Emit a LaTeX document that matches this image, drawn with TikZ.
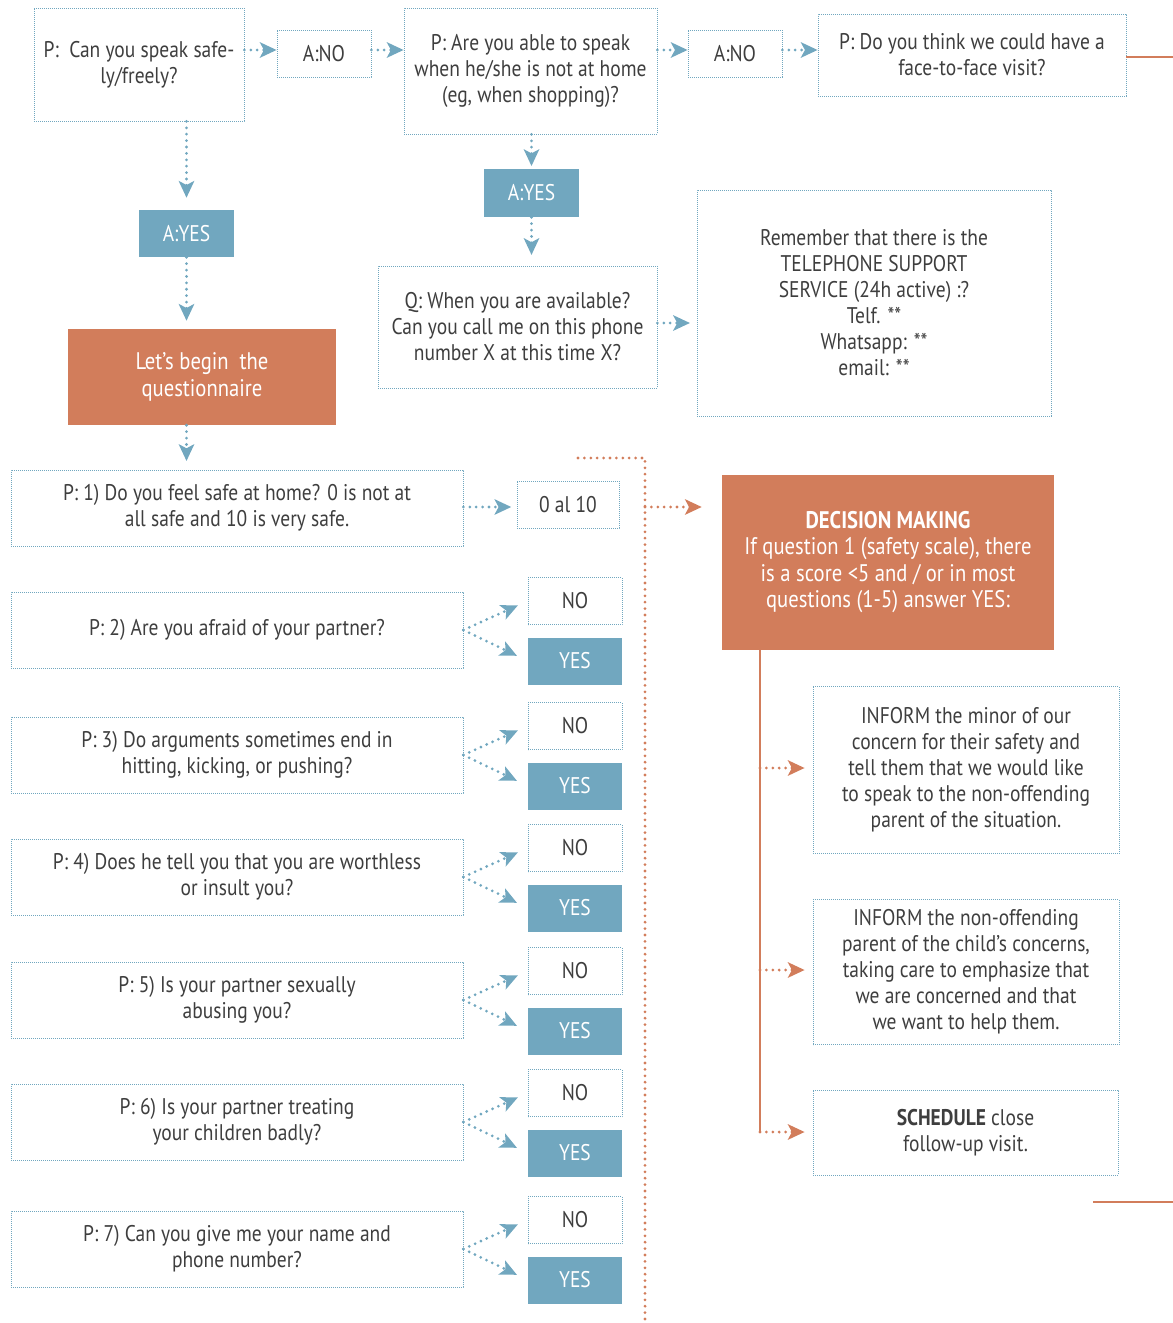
\documentclass[tikz,border=0pt]{standalone}
\usepackage{fontspec}
\setmainfont{PT Sans}[FakeStretch=0.86]
\usetikzlibrary{arrows.meta,calc}
\definecolor{bl}{HTML}{71A7BF}
\definecolor{orr}{HTML}{D27D5B}
\definecolor{txt}{HTML}{3E3E3E}
\tikzset{
  x=0.75pt, y=-0.75pt,
  base/.style={align=center, inner sep=0pt, font=\fontsize{17}{19.5}\selectfont},
  qbox/.style={base, draw=bl, line width=0.6pt, dash pattern=on 0.6pt off 0.9pt, text=txt},
  bbox/.style={base, fill=bl, text=white},
  obox/.style={base, fill=orr, text=white, font=\fontsize{18}{19.8}\selectfont},
  arr/.style={draw=bl, line width=2.3pt, line cap=round, dash pattern=on 0pt off 4.8pt,
    -{Stealth[length=12.5pt,width=11.5pt,inset=3pt]}},
  oarr/.style={draw=orr, line width=2.3pt, line cap=round, dash pattern=on 0pt off 4.8pt,
    -{Stealth[length=12.5pt,width=11.5pt,inset=3pt]}},
  odot/.style={draw=orr, line width=2.3pt, line cap=round, dash pattern=on 0pt off 4.8pt},
  oline/.style={draw=orr, line width=2.2pt},
  qw/.style={minimum width=339pt, minimum height=57pt},
  aw/.style={minimum width=70.5pt, minimum height=35.25pt},
}
\begin{document}
\begin{tikzpicture}
\useasboundingbox (0,0) rectangle (1173,1323);
% top row
\node[qbox, minimum width=157.5pt, minimum height=84.75pt] (q1) at (139,64.5) {P:\ \ Can you speak safe-\\ly/freely?};
\node[qbox, aw] (ano1) at (324,53.5) {A:NO};
\node[qbox, minimum width=189.75pt, minimum height=94.5pt] (q2) at (530.5,71) {P: Are you able to speak\\when he/she is not at home\\(eg, when shopping)?};
\node[qbox, aw] (ano2) at (735,53.5) {A:NO};
\node[qbox, minimum width=231pt, minimum height=61.5pt] (q3) at (972,55) {P: Do you think we could have a\\face-to-face visit?};
\coordinate (redge1) at (1173,57);
\draw[oline] (q3.east |- redge1) -- (redge1);

\node[bbox, minimum width=71.25pt, minimum height=35.25pt] (ayes1) at (186.5,233.5) {A:YES};
\node[obox, minimum width=201pt, minimum height=72pt] (begin) at (202,377) {Let’s begin\ \ the\\questionnaire};
\node[bbox, minimum width=71.25pt, minimum height=36pt] (ayes2) at (531.5,193) {A:YES};
\node[qbox, minimum width=209.25pt, minimum height=91.5pt] (avail) at (517.5,327) {Q: When you are available?\\Can you call me on this phone\\number X at this time X?};
\node[qbox, minimum width=265.5pt, minimum height=169.5pt] (rem) at (874,303) {Remember that there is the\\TELEPHONE SUPPORT\\SERVICE (24h active) :?\\Telf. **\\Whatsapp: **\\email: **};

\draw[arr] (q1.east |- 0,50) -- (ano1.west |- 0,50);
\draw[arr] (ano1.east |- 0,50) -- (q2.west |- 0,50);
\draw[arr] (q2.east |- 0,50) -- (ano2.west |- 0,50);
\draw[arr] (ano2.east |- 0,50) -- (q3.west |- 0,50);
\draw[arr, shorten >=9pt] (ayes1.north |- q1.south) -- (ayes1.north);
\draw[arr, shorten >=6pt] (ayes1.south) -- (ayes1.south |- begin.north);
\draw[arr, shorten >=6pt] (begin.south -| ayes1.south) -- (ayes1.south |- 0,469);
\draw[arr, shorten >=2pt] (ayes2.north |- q2.south) -- (ayes2.north);
\draw[arr, shorten >=8pt] (ayes2.south) -- (ayes2.south |- avail.north);
\draw[arr, shorten >=5pt] (avail.east |- 0,323) -- (rem.west |- 0,323);

% questionnaire
\node[qbox, qw] (p1) at (237,508) {P: 1) Do you feel safe at home? 0 is not at\\all safe and 10 is very safe.};
\node[qbox, minimum width=76.5pt, minimum height=35.25pt] (scale) at (568,504.5) {0 al 10};
\draw[arr, shorten >=4pt] (p1.east |- 0,507) -- (scale.west |- 0,507);

\node[obox, minimum width=249pt, minimum height=131.25pt] (dec) at (888,562) {\textbf{DECISION MAKING}\\If question 1 (safety scale), there\\is a score <5 and / or in most\\questions (1-5) answer YES:};

\coordinate (ot) at (578,458);
\coordinate (oc) at (645,458);
\coordinate (ob) at (645,1323);
\draw[odot] (ot) -- (oc) -- (ob);
\draw[oarr, shorten >=15pt] (oc |- 0,507) -- (dec.west |- 0,507);

\node[qbox, minimum width=229.5pt, minimum height=125.25pt] (inf1) at (966,770) {INFORM the minor of our\\concern for their safety and\\tell them that we would like\\to speak to the non-offending\\parent of the situation.};
\node[qbox, minimum width=229.5pt, minimum height=108.75pt] (inf2) at (966,972) {INFORM the non-offending\\parent of the child’s concerns,\\taking care to emphasize that\\we are concerned and that\\we want to help them.};
\node[qbox, minimum width=228.75pt, minimum height=63.75pt] (sched) at (965.5,1132.5) {\textbf{SCHEDULE} close\\follow-up visit.};

\coordinate (vt) at (760,648);
\coordinate (vb) at (760,1132);
\draw[oline] (vt) -- (vb);
\draw[oarr, shorten >=6pt] (vt |- 0,768) -- (inf1.west |- 0,768);
\draw[oarr, shorten >=6pt] (vt |- 0,970) -- (inf2.west |- 0,970);
\draw[oarr, shorten >=6pt] (vb) -- (sched.west |- vb);

\coordinate (redge2) at (1173,1202);
\draw[oline] (1093,1202) coordinate (rl2) -- (redge2);

% questions 2-7
\foreach \n/\yc/\t in {2/629/{P: 2) Are you afraid of your partner?},
  3/754/{P: 3) Do arguments sometimes end in\\hitting, kicking, or pushing?},
  4/876/{P: 4) Does he tell you that you are worthless\\or insult you?},
  5/999/{P: 5) Is your partner sexually\\abusing you?},
  6/1121/{P: 6) Is your partner treating\\your children badly?},
  7/1248/{P: 7) Can you give me your name and\\phone number?}}{
  \node[qbox, qw] (p\n) at (237,\yc+1) {\t};
  \node[qbox, aw] (no\n) at (575,\yc-28) {NO};
  \node[bbox, aw] (yes\n) at (575,\yc+32) {YES};
  \draw[arr, shorten >=8pt] (p\n.east) -- (no\n.west);
  \draw[arr, shorten >=9pt] (p\n.east) -- (yes\n.west);
}
\end{tikzpicture}
\end{document}
